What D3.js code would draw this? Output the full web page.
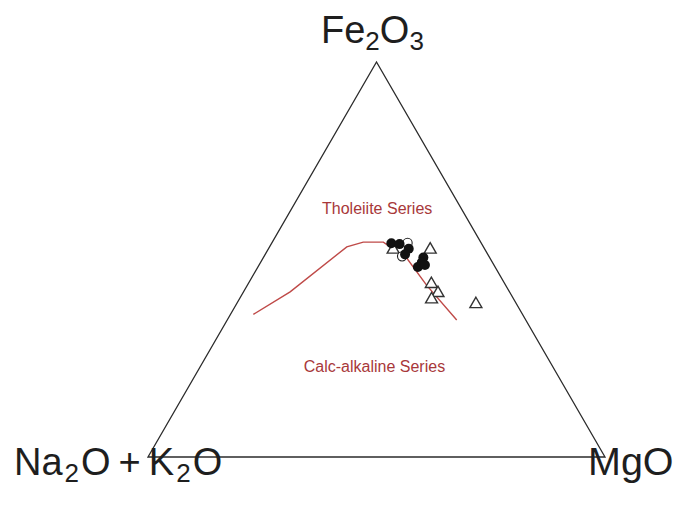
<!DOCTYPE html>
<html>
<head>
<meta charset="utf-8">
<script src="https://cdnjs.cloudflare.com/ajax/libs/d3/7.8.5/d3.min.js"></script>
<style>
  body { margin: 0; background: #fff; }
  svg { display: block; font-family: Arial, "Liberation Sans", sans-serif; }
</style>
</head>
<body>
<svg width="678" height="509"></svg>
<script>
// ternary values as [A (Na2O+K2O), F (Fe2O3), M (MgO)] in percent
var dividingLine = [
    [58.9, 36.1, 5.0],
    [48.0, 41.8, 10.2],
    [29.9, 53.2, 16.9],
    [25.7, 54.4, 19.9],
    [21.3, 54.4, 24.3],
    [18.2, 50.3, 31.5],
    [17.3, 43.5, 39.2],
    [15.1, 34.7, 50.2]
];
var filledSamples = [
    [19.7, 54.1, 26.2],
    [18.0, 53.9, 28.1],
    [16.6, 52.7, 30.7],
    [18.1, 51.3, 30.6],
    [14.5, 50.5, 35.0],
    [15.5, 49.2, 35.3],
    [16.9, 48.1, 35.0],
    [15.1, 48.6, 36.3]
];
var openCircleSamples = [
    [16.1, 54.2, 29.7],
    [19.0, 50.8, 30.2]
];
var triangleSamples = [
    [20.1, 52.5, 27.4],
    [12.0, 52.5, 35.5],
    [16.1, 43.8, 40.1],
    [15.8, 41.5, 42.7],
    [18.0, 39.9, 42.1],
    [8.9, 38.7, 52.4]
];
var seriesLabels = [
    {text: "Tholeiite Series", a: 19.1, f: 61.5, m: 19.4},
    {text: "Calc-alkaline Series", a: 39.7, f: 21.5, m: 38.8}
];

var svg = d3.select("svg");

var x = d3.scaleLinear().domain([0, 100]).range([148, 605]);
var y = d3.scaleLinear().domain([0, 100]).range([457, 62]);

function px(d) { return x(d[2] + d[1] / 2); }
function py(d) { return y(d[1]); }

var corners = [[100, 0, 0], [0, 100, 0], [0, 0, 100]];

svg.append("path")
    .attr("d", d3.line().x(px).y(py)(corners) + "Z")
    .attr("fill", "none")
    .attr("stroke", "#2b2b2b")
    .attr("stroke-width", 1.3);

svg.append("path")
    .attr("d", d3.line().x(px).y(py)(dividingLine))
    .attr("fill", "none")
    .attr("stroke", "#bf4a48")
    .attr("stroke-width", 1.4);

svg.selectAll("text.series")
    .data(seriesLabels)
    .enter().append("text")
    .attr("class", "series")
    .attr("x", function (d) { return px([d.a, d.f, d.m]); })
    .attr("y", function (d) { return py([d.a, d.f, d.m]); })
    .attr("text-anchor", "middle")
    .attr("font-size", 16)
    .attr("fill", "#a8383a")
    .text(function (d) { return d.text; });

var tri = d3.symbol().type(d3.symbolTriangle).size(62);

svg.selectAll("path.tri")
    .data(triangleSamples)
    .enter().append("path")
    .attr("class", "tri")
    .attr("d", tri)
    .attr("transform", function (d) { return "translate(" + px(d) + "," + py(d) + ")"; })
    .attr("fill", "#fff")
    .attr("stroke", "#333")
    .attr("stroke-width", 1.4);

svg.selectAll("circle.open")
    .data(openCircleSamples)
    .enter().append("circle")
    .attr("class", "open")
    .attr("cx", px)
    .attr("cy", py)
    .attr("r", 4.6)
    .attr("fill", "#fff")
    .attr("stroke", "#222")
    .attr("stroke-width", 1.1);

svg.selectAll("circle.filled")
    .data(filledSamples)
    .enter().append("circle")
    .attr("class", "filled")
    .attr("cx", px)
    .attr("cy", py)
    .attr("r", 5)
    .attr("fill", "#111");

// vertex labels with subscripts
function vertexLabel(parts, xPos, yPos, anchor) {
    var t = svg.append("text")
        .attr("x", xPos)
        .attr("y", yPos)
        .attr("text-anchor", anchor)
        .attr("font-size", 38)
        .attr("fill", "#1e1e1e");
    parts.forEach(function (p) {
        var s = t.append("tspan").text(p[0]);
        if (p[1] === "sub") {
            s.attr("font-size", 26).attr("dy", 7);
        } else if (p[1] === "back") {
            s.attr("dy", -7);
        }
        if (p[2]) s.attr("dx", p[2]);
    });
    return t;
}

vertexLabel([["Fe"], ["2", "sub"], ["O", "back"], ["3", "sub"]], 321, 43, "start");
vertexLabel([["Na"], ["2", "sub", 2], ["O", "back", 2], ["+", null, 8], ["K", null, 8], ["2", "sub", 2], ["O", "back", 2]], 14, 475, "start");
vertexLabel([["MgO"]], 588, 475, "start").attr("font-size", 39.5);
</script>
</body>
</html>
